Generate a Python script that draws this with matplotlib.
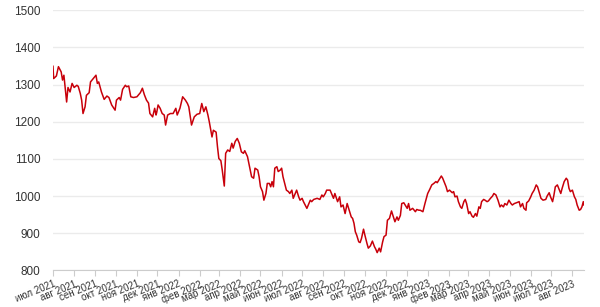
import matplotlib
matplotlib.use("Agg")
import matplotlib.pyplot as plt
import pandas as pd

dates = [
    "2021-07-01","2021-07-02","2021-07-06","2021-07-09","2021-07-13","2021-07-15","2021-07-17","2021-07-21",
    "2021-07-23","2021-07-26","2021-07-29","2021-08-01","2021-08-05","2021-08-07","2021-08-10","2021-08-12",
    "2021-08-14","2021-08-17","2021-08-19","2021-08-23","2021-08-25","2021-08-29","2021-09-02","2021-09-04",
    "2021-09-06","2021-09-10","2021-09-14","2021-09-18","2021-09-21","2021-09-25","2021-09-30","2021-10-02",
    "2021-10-06","2021-10-08","2021-10-11","2021-10-15","2021-10-17","2021-10-20","2021-10-23","2021-10-27",
    "2021-11-01","2021-11-06","2021-11-09","2021-11-12","2021-11-15","2021-11-18","2021-11-20","2021-11-24",
    "2021-11-27","2021-11-29","2021-11-30","2021-12-02","2021-12-05","2021-12-08","2021-12-11","2021-12-13",
    "2021-12-16","2021-12-20","2021-12-24","2021-12-28","2021-12-30","2022-01-03","2022-01-07","2022-01-11",
    "2022-01-14","2022-01-16","2022-01-20","2022-01-24","2022-01-28","2022-02-01","2022-02-04","2022-02-07",
    "2022-02-10","2022-02-13","2022-02-15","2022-02-19","2022-02-21","2022-02-25","2022-02-27","2022-03-01",
    "2022-03-04","2022-03-06","2022-03-09","2022-03-11","2022-03-14","2022-03-17","2022-03-20","2022-03-22",
    "2022-03-25","2022-03-28","2022-03-31","2022-04-03","2022-04-06","2022-04-08","2022-04-12","2022-04-15",
    "2022-04-18","2022-04-21","2022-04-23","2022-04-27","2022-04-29","2022-05-01","2022-05-04","2022-05-06",
    "2022-05-09","2022-05-11","2022-05-14","2022-05-16","2022-05-18","2022-05-20","2022-05-22","2022-05-25",
    "2022-05-27","2022-05-30","2022-06-01","2022-06-03","2022-06-06","2022-06-08","2022-06-11","2022-06-13",
    "2022-06-16","2022-06-18","2022-06-21","2022-06-23","2022-06-26","2022-06-28","2022-07-01","2022-07-03",
    "2022-07-08","2022-07-10","2022-07-13","2022-07-15","2022-07-18","2022-07-23","2022-07-27","2022-07-30",
    "2022-08-01","2022-08-04","2022-08-06","2022-08-11","2022-08-14","2022-08-16","2022-08-18","2022-08-22",
    "2022-08-25","2022-08-27","2022-08-30","2022-09-02","2022-09-05","2022-09-08","2022-09-11","2022-09-13",
    "2022-09-15","2022-09-17","2022-09-19","2022-09-22","2022-09-24","2022-09-26","2022-09-29","2022-10-01",
    "2022-10-04","2022-10-06","2022-10-09","2022-10-12","2022-10-15","2022-10-17","2022-10-19","2022-10-22",
    "2022-10-24","2022-10-27","2022-10-29","2022-11-01","2022-11-03","2022-11-06","2022-11-09","2022-11-11",
    "2022-11-14","2022-11-17","2022-11-19","2022-11-22","2022-11-24","2022-11-27","2022-11-29","2022-12-02",
    "2022-12-04","2022-12-06","2022-12-10","2022-12-14","2022-12-16","2022-12-19","2022-12-21","2022-12-25",
    "2022-12-28","2023-01-01","2023-01-04","2023-01-07","2023-01-10","2023-01-13","2023-01-15","2023-01-18",
    "2023-01-21","2023-01-23","2023-01-25","2023-01-28","2023-01-30","2023-02-02","2023-02-06","2023-02-08",
    "2023-02-10","2023-02-13","2023-02-15","2023-02-18","2023-02-20","2023-02-23","2023-02-25","2023-02-27",
    "2023-03-02","2023-03-04","2023-03-07","2023-03-09","2023-03-12","2023-03-14","2023-03-17","2023-03-19",
    "2023-03-21","2023-03-24","2023-03-26","2023-03-29","2023-03-31","2023-04-03","2023-04-06","2023-04-08",
    "2023-04-11","2023-04-14","2023-04-17","2023-04-19","2023-04-22","2023-04-24","2023-04-27","2023-04-29",
    "2023-04-30","2023-05-03","2023-05-05","2023-05-08","2023-05-11","2023-05-15","2023-05-17","2023-05-20",
    "2023-05-22","2023-05-25","2023-05-26","2023-05-29","2023-06-01","2023-06-03","2023-06-06","2023-06-09",
    "2023-06-11","2023-06-14","2023-06-16","2023-06-19","2023-06-23","2023-06-25","2023-06-28","2023-06-30",
    "2023-07-03","2023-07-05","2023-07-07","2023-07-10","2023-07-12","2023-07-15","2023-07-17","2023-07-20",
    "2023-07-23","2023-07-25","2023-07-27","2023-07-29","2023-08-01","2023-08-04","2023-08-06","2023-08-08",
    "2023-08-11","2023-08-13","2023-08-15","2023-08-17","2023-08-18",
]

values = [
    1349,1316,1323,1348,1334,1312,1325,1253,
    1292,1280,1303,1292,1298,1295,1276,1258,
    1222,1240,1271,1278,1307,1316,1325,1303,
    1307,1280,1260,1269,1265,1245,1231,1258,
    1265,1258,1287,1298,1294,1296,1267,1265,
    1267,1278,1290,1272,1258,1250,1222,1213,
    1236,1218,1225,1245,1236,1222,1218,1191,
    1218,1222,1222,1236,1218,1236,1267,1258,
    1249,1240,1191,1213,1220,1222,1249,1227,
    1240,1218,1200,1159,1177,1172,1133,1101,
    1095,1070,1027,1115,1124,1120,1142,1129,
    1147,1155,1142,1119,1115,1122,1106,1079,
    1052,1048,1075,1070,1052,1025,1012,989,
    1007,1034,1034,1025,1039,1025,1075,1079,
    1066,1070,1075,1052,1030,1016,1012,1007,
    1016,994,1007,1016,998,989,994,985,
    967,976,989,985,991,994,991,1003,
    998,1007,1016,1016,1003,994,1007,985,
    998,971,976,953,980,962,944,940,
    927,904,895,877,875,886,911,895,
    873,860,866,879,864,857,848,860,
    850,877,891,895,935,940,960,948,
    931,944,935,948,980,982,976,967,
    980,962,967,958,964,962,962,958,
    980,1007,1018,1030,1034,1039,1036,1045,
    1054,1048,1039,1025,1012,1016,1009,1012,
    998,1000,985,971,967,985,991,980,
    953,958,946,943,953,946,971,967,
    985,991,989,985,987,994,1000,1007,
    1003,989,971,976,971,980,976,985,
    989,980,976,980,982,985,971,980,
    967,962,982,987,998,1007,1016,1030,
    1025,1007,994,989,991,1000,1009,998,
    985,1003,1025,1030,1021,1007,1021,1039,
    1048,1043,1021,1012,1016,998,991,976,
    962,964,971,985,976,
]

month_labels = [
    "июл 2021","авг 2021","сен 2021","окт 2021","ноя 2021","дек 2021",
    "янв 2022","фев 2022","мар 2022","апр 2022","май 2022","июн 2022",
    "июл 2022","авг 2022","сен 2022","окт 2022","ноя 2022","дек 2022",
    "янв 2023","фев 2023","мар 2023","апр 2023","май 2023","июн 2023",
    "июл 2023","авг 2023",
]
y_ticks = [800, 900, 1000, 1100, 1200, 1300, 1400, 1500]

plt.rcParams["font.family"] = ["Liberation Sans", "DejaVu Sans"]

x = pd.to_datetime(dates)
tick_dates = pd.date_range("2021-07-01", periods=len(month_labels), freq="MS")

fig = plt.figure(figsize=(6.0, 3.07), dpi=100)
ax = fig.add_axes([0.0883, 0.119, 0.885, 0.848])

ax.plot(x, values, color="#c8000a", linewidth=1.1, zorder=3)

ax.set_ylim(800, 1500)
ax.set_xlim(pd.Timestamp("2021-07-01"), pd.Timestamp("2023-08-18"))
ax.set_yticks(y_ticks)
ax.set_yticklabels([str(v) for v in y_ticks])
ax.set_xticks(tick_dates)
ax.set_xticklabels(month_labels, rotation=22, ha="right", rotation_mode="anchor")

ax.grid(axis="y", color="#ebebeb", linewidth=1.0, zorder=0)
ax.grid(axis="x", visible=False)
for s in ["top", "right", "left"]:
    ax.spines[s].set_visible(False)
ax.spines["bottom"].set_color("#cccccc")
ax.spines["bottom"].set_linewidth(0.8)

ax.tick_params(axis="y", length=0, pad=9, labelsize=8.5, labelcolor="#333333")
ax.tick_params(axis="x", length=4, width=0.8, color="#cccccc", pad=2,
               labelsize=7, labelcolor="#333333")

fig.savefig("out.png", dpi=100, facecolor="white")
